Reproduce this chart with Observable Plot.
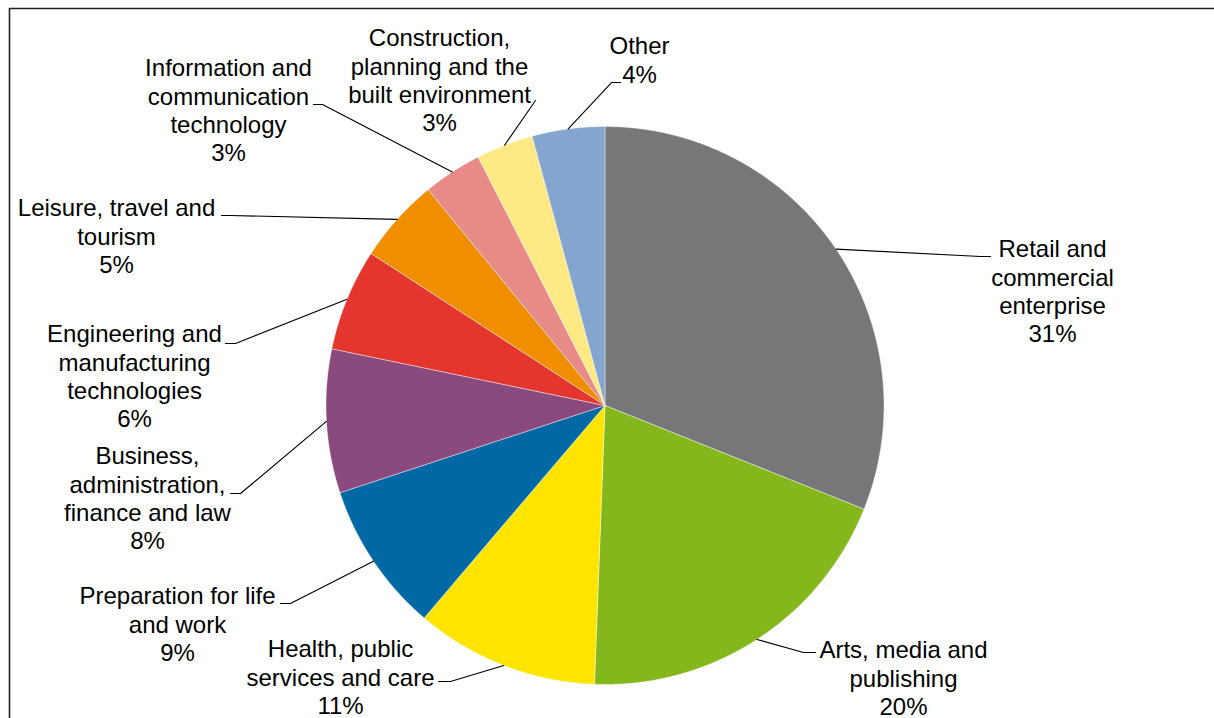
<!DOCTYPE html>
<html><head><meta charset="utf-8">
<script src="https://cdn.jsdelivr.net/npm/d3@7"></script>
<script src="https://cdn.jsdelivr.net/npm/@observablehq/plot@0.6"></script>
<style>html,body{margin:0;padding:0;background:#fff}svg{display:block}</style>
</head><body><div id="chart"></div>
<script>
// ---- data ----
const categories = ["Retail and commercial enterprise", "Arts, media and publishing", "Health, public services and care", "Preparation for life and work", "Business, administration, finance and law", "Engineering and manufacturing technologies", "Leisure, travel and tourism", "Information and communication technology", "Construction, planning and the built environment", "Other"];
const values = [31.0, 19.5, 10.6, 8.7, 8.3, 5.9, 4.9, 3.4, 3.3, 4.2];
const colors = ["#767779", "#84B71C", "#FFE400", "#0069A5", "#8B4A7E", "#E4352E", "#F18E00", "#E88A88", "#FFE985", "#84A5CD"];

// ---- layout ----
const labelLines = [
  ["Retail and", "commercial", "enterprise"],
  ["Arts, media and", "publishing"],
  ["Health, public", "services and care"],
  ["Preparation for life", "and work"],
  ["Business,", "administration,", "finance and law"],
  ["Engineering and", "manufacturing", "technologies"],
  ["Leisure, travel and", "tourism"],
  ["Information and", "communication", "technology"],
  ["Construction,", "planning and the", "built environment"],
  ["Other"]
];
const labelPos = [[1052, 237], [903, 638], [340, 637], [177, 584], [147, 444], [134, 322], [116, 196], [228, 56], [439, 26], [639, 34]];
const leaderEnds = [[990, 256, -10], [815, 652, -12], [438, 681, 12], [280, 603, 10], [230, 493, 10], [225, 343, 10], [221, 215, 9], [313, 104, 9], [535, 100, 0], [620, 82, -9]];
const W = 1214, H = 718, cx = 604.5, cy = 405, R = 279;

const total = d3.sum(values);
const arcs = d3.pie().sort(null).value(d => d)(values);
const pt = (a, r) => [cx + r * Math.sin(a), cy - r * Math.cos(a)];

const slicePts = [];
arcs.forEach((a, i) => {
  const name = categories[i];
  slicePts.push({name, x: cx, y: cy});
  const n = Math.max(4, Math.ceil((a.endAngle - a.startAngle) / 0.005));
  for (let k = 0; k <= n; k++) {
    const t = a.startAngle + (a.endAngle - a.startAngle) * k / n;
    const [x, y] = pt(t, R);
    slicePts.push({name, x, y});
  }
  slicePts.push({name, x: cx, y: cy});
});

const leaderPts = [];
arcs.forEach((a, i) => {
  const name = categories[i];
  const [sx, sy] = pt((a.startAngle + a.endAngle) / 2, R);
  const [ex, ey, dx] = leaderEnds[i];
  leaderPts.push({name, x: sx, y: sy}, {name, x: ex + dx, y: ey}, {name, x: ex, y: ey});
});

const labels = categories.map((c, i) => ({
  x: labelPos[i][0], y: labelPos[i][1],
  text: labelLines[i].join("\n") + "\n" + Math.round(values[i] / total * 100) + "%"
}));

const chart = Plot.plot({
  width: W, height: H, margin: 0,
  x: {domain: [0, W], range: [0, W], axis: null},
  y: {domain: [0, H], range: [0, H], axis: null},
  color: {domain: categories, range: colors},
  style: {fontFamily: "'Liberation Sans', Arial, sans-serif", background: "white"},
  marks: [
    Plot.line(slicePts, {x: "x", y: "y", z: "name", fill: "name", stroke: "white", strokeWidth: 0.6, strokeOpacity: 0.7}),
    Plot.line(leaderPts, {x: "x", y: "y", z: "name", stroke: "black", strokeWidth: 1.1}),
    Plot.text(labels, {x: "x", y: "y", text: "text", fontSize: 24, lineAnchor: "top", lineHeight: 1.17, fill: "black", textAnchor: "middle"}),
    Plot.ruleY([8], {x1: 9, x2: W, stroke: "#222", strokeWidth: 1.6}),
    Plot.ruleX([9], {y1: 8, y2: H, stroke: "#222", strokeWidth: 1.6})
  ]
});
document.getElementById("chart").appendChild(chart);
</script>
</body></html>
